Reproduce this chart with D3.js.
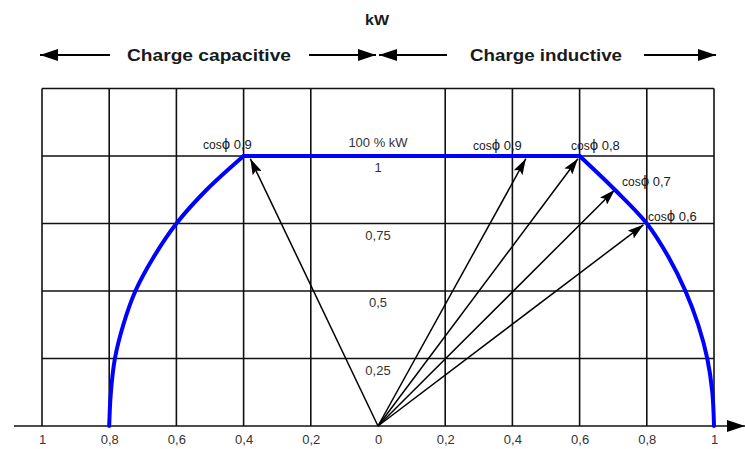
<!DOCTYPE html>
<html><head><meta charset="utf-8">
<script src="https://cdnjs.cloudflare.com/ajax/libs/d3/7.8.5/d3.min.js"></script>
<style>
html,body{margin:0;padding:0;background:#fff;}
svg{display:block;font-family:"Liberation Sans Narrow","Liberation Sans",Arial,sans-serif;}
</style></head><body>
<svg id="c" width="745" height="449"></svg>
<script>
// ---- data ----
const xTickValues = [-1, -0.8, -0.6, -0.4, -0.2, 0, 0.2, 0.4, 0.6, 0.8, 1];
const xTickLabels = ["1", "0,8", "0,6", "0,4", "0,2", "0", "0,2", "0,4", "0,6", "0,8", "1"];
const gridX = [-1, -0.8, -0.6, -0.4, -0.2, 0.2, 0.4, 0.6, 0.8, 1];
const gridY = [0.25, 0.5, 0.75, 1, 1.25];
const levelValues = [0.25, 0.5, 0.75, 1];
const levelLabels = ["0,25", "0,5", "0,75", "1"];
const capacitiveCurve = [[-0.8, 0], [-0.795, 0.125], [-0.783, 0.25], [-0.758, 0.375], [-0.722, 0.5],
  [-0.668, 0.625], [-0.6, 0.75], [-0.51, 0.875], [-0.4, 1]];
const plateau = [[-0.4, 1], [0.6, 1]];
const inductiveCurve = [[0.6, 1], [0.705, 0.875], [0.8, 0.75], [0.865, 0.625], [0.915, 0.5],
  [0.953, 0.375], [0.98, 0.25], [0.995, 0.125], [1, 0]];
const vectorTips = [[-0.38, 0.99], [0.44, 0.99], [0.595, 0.99], [0.705, 0.875], [0.79, 0.745]];
const cosPhiLabels = ["0,9", "0,9", "0,8", "0,7", "0,6"];
const title = "kW";
const sideLabels = ["Charge capacitive", "Charge inductive"];
const topLabel = "100 % kW";

// ---- layout ----
const svg = d3.select("#c");
const x = d3.scaleLinear().domain([-1, 1]).range([42, 714]);
const y = d3.scaleLinear().domain([0, 1.25]).range([426, 88.5]);
const cosPos = [[203, 149], [473, 150], [571, 150], [622, 186], [648, 221]];
const ink = "#1a1a1a";

const defs = svg.append("defs");
defs.append("marker").attr("id", "ah").attr("viewBox", "0 0 16 10")
  .attr("refX", 16).attr("refY", 5).attr("markerWidth", 16).attr("markerHeight", 10)
  .attr("markerUnits", "userSpaceOnUse").attr("orient", "auto")
  .append("path").attr("d", "M0,0 L16,5 L0,10 L3,5 Z").attr("fill", "#000");
defs.append("marker").attr("id", "ah2").attr("viewBox", "0 0 18 12")
  .attr("refX", 18).attr("refY", 6).attr("markerWidth", 18).attr("markerHeight", 12)
  .attr("markerUnits", "userSpaceOnUse").attr("orient", "auto")
  .append("path").attr("d", "M0,0 L18,6 L0,12 Z").attr("fill", "#000");

// grid
const g = svg.append("g").attr("stroke", "#111").attr("stroke-width", 1.6);
g.selectAll("line.v").data(gridX).join("line")
  .attr("x1", d => x(d)).attr("x2", d => x(d)).attr("y1", y(0)).attr("y2", y(1.25));
g.selectAll("line.h").data(gridY).join("line").attr("class", "h")
  .attr("x1", x(-1)).attr("x2", x(1)).attr("y1", d => y(d)).attr("y2", d => y(d));

// x axis baseline with arrow
svg.append("line").attr("x1", 14).attr("x2", 745).attr("y1", y(0)).attr("y2", y(0))
  .attr("stroke", "#111").attr("stroke-width", 1.6).attr("marker-end", "url(#ah2)");

// axis tick labels
const axis = d3.axisBottom(x).tickValues(xTickValues)
  .tickFormat((d, i) => xTickLabels[i]).tickSize(0).tickPadding(9);
const ag = svg.append("g").attr("transform", `translate(0,${y(0)})`).call(axis);
ag.select(".domain").remove();
ag.selectAll("text").attr("font-size", 13).attr("fill", "#333")
  .attr("font-family", "Liberation Sans, Arial, sans-serif");

// level labels in the centre column
svg.selectAll("text.lv").data(levelValues).join("text").attr("class", "lv")
  .attr("x", x(0)).attr("y", d => y(d) + 16).attr("text-anchor", "middle")
  .attr("font-family", "Liberation Sans, Arial, sans-serif")
  .attr("font-size", 13).attr("fill", "#333").text((d, i) => levelLabels[i]);
svg.append("text").attr("x", x(0)).attr("y", y(1) - 9).attr("text-anchor", "middle")
  .attr("font-family", "Liberation Sans, Arial, sans-serif")
  .attr("font-size", 13).attr("fill", "#333").text(topLabel);

// vectors
svg.selectAll("line.vec").data(vectorTips).join("line").attr("class", "vec")
  .attr("x1", x(0)).attr("y1", y(0)).attr("x2", d => x(d[0])).attr("y2", d => y(d[1]))
  .attr("stroke", "#000").attr("stroke-width", 1.5).attr("marker-end", "url(#ah)");

// blue capability curve
const line = d3.line().x(d => x(d[0])).y(d => y(d[1]));
const smooth = d3.line().x(d => x(d[0])).y(d => y(d[1])).curve(d3.curveCatmullRom.alpha(0.5));
[[capacitiveCurve, smooth], [plateau, line], [inductiveCurve, smooth]].forEach(([d, gen]) => {
  svg.append("path").attr("d", gen(d)).attr("fill", "none").attr("stroke", "#0000ff")
    .attr("stroke-width", 4).attr("stroke-linecap", "round").attr("stroke-linejoin", "round");
});

// cos phi labels
cosPhiLabels.forEach((lab, i) => {
  const t = svg.append("text").attr("x", cosPos[i][0]).attr("y", cosPos[i][1]).attr("fill", ink)
    .attr("font-family", "Liberation Sans, Arial, sans-serif");
  t.append("tspan").attr("font-size", 12).text("cos");
  t.append("tspan").attr("font-size", 15).text("ϕ");
  t.append("tspan").attr("font-size", 13).text(" " + lab);
});

// titles
svg.append("text").attr("x", 377).attr("y", 25).attr("text-anchor", "middle")
  .attr("font-size", 15).attr("font-weight", "bold").attr("fill", ink)
  .attr("textLength", 24).attr("lengthAdjust", "spacingAndGlyphs").text(title);
svg.append("text").attr("x", 127).attr("y", 61).attr("font-size", 16).attr("fill", ink)
  .attr("font-weight", "bold")
  .attr("textLength", 164).attr("lengthAdjust", "spacingAndGlyphs").text(sideLabels[0]);
svg.append("text").attr("x", 470).attr("y", 61).attr("font-size", 16).attr("fill", ink)
  .attr("font-weight", "bold")
  .attr("textLength", 152).attr("lengthAdjust", "spacingAndGlyphs").text(sideLabels[1]);

// direction arrows
const dirArrows = [[110, 40], [309, 376], [447, 379], [644, 716]];
svg.selectAll("line.dir").data(dirArrows).join("line").attr("class", "dir")
  .attr("x1", d => d[0]).attr("x2", d => d[1]).attr("y1", 55).attr("y2", 55)
  .attr("stroke", "#000").attr("stroke-width", 1.8).attr("marker-end", "url(#ah2)");
</script>
</body></html>
